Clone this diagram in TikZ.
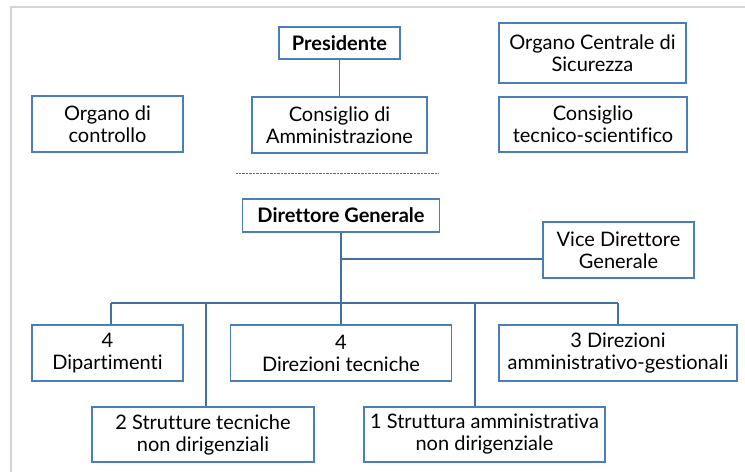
\documentclass[tikz,border=0pt]{standalone}
\usepackage{fontspec}
\setmainfont{Lato}[Ligatures={NoCommon}]
\usepackage{tikz}
\usetikzlibrary{calc}
\definecolor{boxblue}{RGB}{74,126,187}
\definecolor{lineblue}{RGB}{65,113,156}
\definecolor{framegray}{RGB}{212,212,212}

\begin{document}
\begin{tikzpicture}[x=1pt, y=-1pt]

    \tikzstyle{unit}=[rectangle, draw=boxblue, line width=1.1pt, inner sep=0pt, align=center, font=\fontsize{20}{22}\selectfont];
    \tikzstyle{link}=[draw=lineblue, line width=1.1pt];

    \useasboundingbox (0,0) rectangle (745,472);
    \draw[framegray, line width=1.6pt] (11,472) -- (11,7) -- (745,7);

    \node[unit, minimum width=121pt, minimum height=32pt] (pres) at (339.5,43) {\textbf{Presidente}};
    \node[unit, minimum width=175pt, minimum height=56pt] (cda) at (339.5,125) {Consiglio di\\Amministrazione};
    \node[unit, minimum width=151pt, minimum height=56pt] (ctrl) at (107.5,124) {Organo di\\controllo};
    \node[unit, minimum width=187pt, minimum height=60pt] (ocs) at (592.5,53) {Organo Centrale di\\Sicurezza};
    \node[unit, minimum width=188pt, minimum height=55pt] (cts) at (593,124.5) {Consiglio\\tecnico-scientifico};

    \coordinate (sepl) at (236,173);
    \coordinate (sepr) at (438,173);

    \node[unit, minimum width=197pt, minimum height=33pt] (dg) at (341,215.5) {\textbf{Direttore Generale}};
    \node[unit, minimum width=151pt, minimum height=56pt] (vdg) at (618.5,250) {Vice Direttore\\Generale};

    \node[unit, minimum width=151pt, minimum height=56pt] (dip) at (107.5,353) {4\\Dipartimenti};
    \node[unit, minimum width=221pt, minimum height=56pt] (dtec) at (341,353) {4\\Direzioni tecniche};
    \node[unit, minimum width=238pt, minimum height=56pt] (damm) at (618,353) {3 Direzioni\\amministrativo-gestionali};
    \node[unit, minimum width=222pt, minimum height=55pt] (stec) at (203,434.5) {2 Strutture tecniche\\non dirigenziali};
    \node[unit, minimum width=241pt, minimum height=55pt] (samm) at (484.5,434.5) {1 Struttura amministrativa\\non dirigenziale};

    \coordinate (vj) at (341,259);
    \coordinate (busl) at (111,303);
    \coordinate (busr) at (618,303);
    \coordinate (bst) at (206,303);
    \coordinate (bsa) at (475,303);

    \draw[lineblue, line width=0.9pt, dash pattern=on 0.7pt off 0.7pt] (sepl) -- (sepr);

    \draw[link] (pres) -- (cda);
    \draw[link] (dg) -- (dtec);
    \draw[link] (vj) -- (vj -| vdg.west);
    \draw[link] (busl) -- (busr);
    \draw[link] (busl) -- (busl |- dip.north);
    \draw[link] (bst) -- (bst |- stec.north);
    \draw[link] (bsa) -- (bsa |- samm.north);
    \draw[link] (busr) -- (busr |- damm.north);

\end{tikzpicture}
\end{document}
